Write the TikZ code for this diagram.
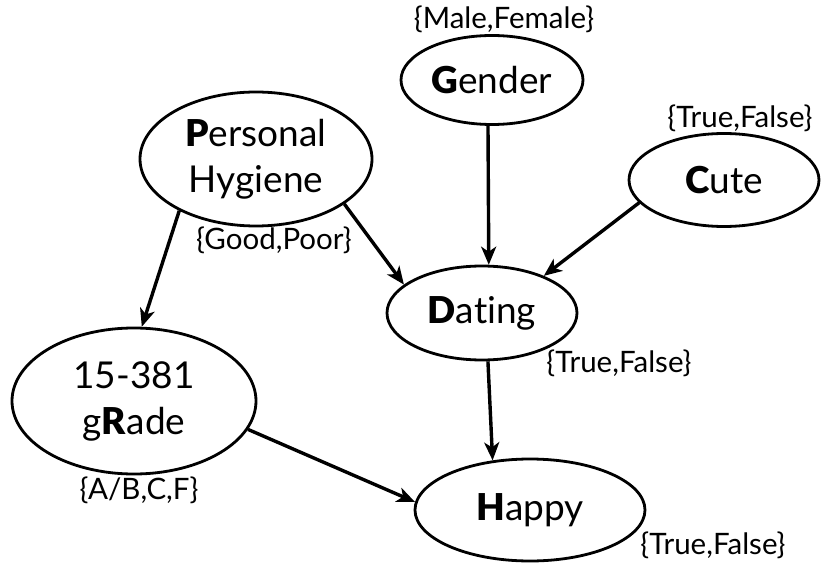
\documentclass[tikz,border=0pt]{standalone}
\usepackage{fontspec}
\setmainfont{Lato}[Ligatures={NoCommon},BoldFont={Lato Black}]
\usetikzlibrary{shapes.geometric,arrows.meta}
\begin{document}
\begin{tikzpicture}[x=1pt,y=-1pt,
  var/.style={draw,ellipse,line width=2.8pt,inner sep=0pt,align=center,
    font=\fontsize{37}{46}\selectfont},
  lab/.style={inner sep=0pt,font=\fontsize{29.5}{32}\selectfont},
  edge/.style={line width=3.4pt,-{Stealth[length=18pt,width=15pt,inset=5pt]}}]
\useasboundingbox (0,0) rectangle (822,564);
\node[var,minimum width=182pt,minimum height=89pt] (g) at (492,80) {\textbf{G}ender};
\node[var,minimum width=232pt,minimum height=134pt] (p) at (256,159) {\textbf{P}ersonal\\Hygiene};
\node[var,minimum width=190pt,minimum height=93pt] (c) at (724,180) {\textbf{C}ute};
\node[var,minimum width=190pt,minimum height=94pt] (d) at (482,313) {\textbf{D}ating};
\node[var,minimum width=244pt,minimum height=146pt] (r) at (134,401) {15-381\\g\textbf{R}ade};
\node[var,minimum width=230pt,minimum height=102pt] (h) at (530,510) {\textbf{H}appy};
\node[lab] (lg) at (504,19) {\{Male,Female\}};
\node[lab] (lc) at (740,118) {\{True,False\}};
\node[lab] (lp) at (274,240) {\{Good,Poor\}};
\node[lab] (ld) at (619,363) {\{True,False\}};
\node[lab] (lr) at (139,490) {\{A/B,C,F\}};
\node[lab] (lh) at (713,545) {\{True,False\}};
\draw[edge] (p.214) -- (r.84);
\draw[edge] (p.-27) -- (d.160);
\draw[edge] (g.-95) -- (d.82);
\draw[edge] (c.195) -- (d.31);
\draw[edge] (d.-83) -- (h.127);
\draw[edge] (r.-14) -- (h.176);
\end{tikzpicture}
\end{document}
